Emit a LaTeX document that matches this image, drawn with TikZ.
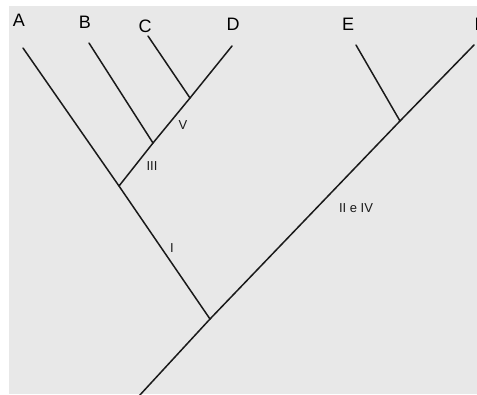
\documentclass[tikz,border=0pt]{standalone}
\usepackage{fontspec}
\setmainfont{Liberation Sans}
\usepackage{xcolor}
\usetikzlibrary{calc}
\definecolor{PanelBg}{HTML}{E8E8E8}
\definecolor{LineDark}{HTML}{1A1A1A}
\newcommand{\taxonfont}{\fontsize{18}{20}\selectfont}
\newcommand{\cladefont}{\fontsize{13}{15}\selectfont}
\tikzset{
  branch/.style={draw=LineDark, line width=1.5pt, line cap=round},
  taxon/.style={font=\taxonfont, text=black, inner sep=0pt},
  clade/.style={font=\cladefont, text=LineDark, inner sep=0pt}
}

\begin{document}
\begin{tikzpicture}[x=1pt,y=-1pt]
  \useasboundingbox (0,0) rectangle (477,394);
  \fill[white] (0,0) rectangle (477,394);
  \fill[PanelBg] (9,6) rectangle (477,394);
  % noeuds internes
  \coordinate (root) at (210,319);
  \coordinate (base) at (139,396);
  \coordinate (nBCD) at (119,186);
  \coordinate (nCD) at (153,143);
  \coordinate (nD) at (190,98);
  \coordinate (nEF) at (400,121);
  % extremites des branches
  \foreach \n/\x/\y in {A/23/48, B/89/43, C/148/36, D/232/46, E/356/45, F/474/45}
    \coordinate (t\n) at (\x,\y);
  % noms des taxons
  \foreach \n/\x/\y in {A/19/20, B/85/22, C/145/26, D/233/24, E/348/24, F/480/24}
    \node[taxon] (lab\n) at (\x,\y) {\n};
  % branches
  \draw[branch] (base) -- (root);
  \draw[branch] (root) -- (nBCD) -- (tA);
  \draw[branch] (nBCD) -- (nCD) -- (nD) -- (tD);
  \draw[branch] (nCD) -- (tB);
  \draw[branch] (nD) -- (tC);
  \draw[branch] (root) -- (nEF) -- (tF);
  \draw[branch] (nEF) -- (tE);
  % etiquettes des clades
  \node[clade] (labV) at (183,125) {V};
  \node[clade] (labIII) at (152,166) {III};
  \node[clade] (labI) at (172,248) {I};
  \node[clade] (labIIeIV) at (356,208) {II e IV};
\end{tikzpicture}
\end{document}
